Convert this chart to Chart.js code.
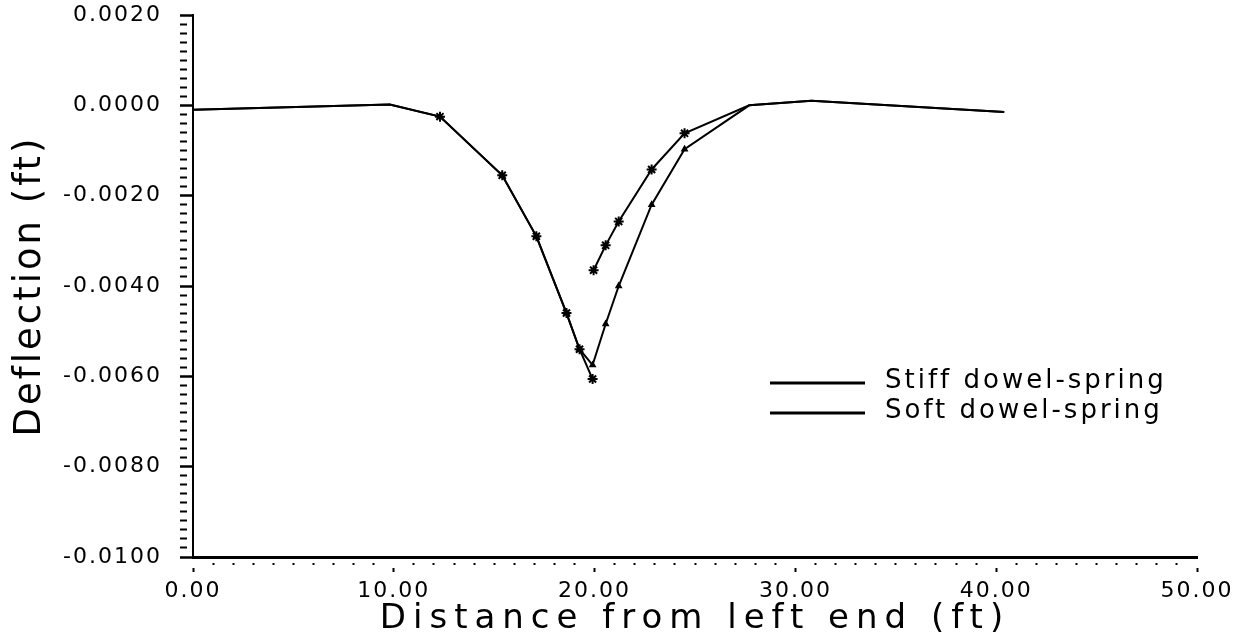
<!DOCTYPE html>
<html><head><meta charset="utf-8">
<script src="https://cdn.jsdelivr.net/npm/chart.js@4"></script>
<style>html,body{margin:0;padding:0;background:#fff}#wrap{width:1240px;height:644px}</style>
</head><body><div id="wrap"><canvas id="c" width="1240" height="644"></canvas></div>
<script>
const seriesLabels = ['Stiff dowel-spring', 'Soft dowel-spring'];
const stiffX = [0, 9.8, 12.3, 15.4, 17.1, 18.6, 19.25, 19.9, 20.55, 21.2, 22.84, 24.48, 27.7, 30.8, 40.4];
const stiffY = [-0.0001, 0.00002, -0.00025, -0.00155, -0.0029, -0.0046, -0.0054, -0.00575, -0.00484, -0.0040, -0.0022, -0.00097, 0.0000, 0.0001, -0.00015];
const softX = [0, 9.8, 12.3, 15.4, 17.1, 18.6, 19.25, 19.9, 19.92, 19.95, 20.55, 21.2, 22.84, 24.48, 27.7, 30.8, 40.4];
const softY = [-0.0001, 0.00002, -0.00025, -0.00155, -0.0029, -0.0046, -0.0054, -0.00606, null, -0.00365, -0.0031, -0.00257, -0.00142, -0.00062, 0.0000, 0.0001, -0.00015];
const xTickLabels = ['0.00', '10.00', '20.00', '30.00', '40.00', '50.00'];
const yTickLabels = ['0.0020', '0.0000', '-0.0020', '-0.0040', '-0.0060', '-0.0080', '-0.0100'];
const xAxisTitle = 'Distance from left end (ft)';
const yAxisTitle = 'Deflection (ft)';

const FAM = '"DejaVu Sans", sans-serif';
const toPts = (xs, ys) => xs.map((x, i) => ({x: x, y: ys[i]}));
const isXMajor = v => Math.abs(v / 10 - Math.round(v / 10)) < 1e-6;
const isYMajor = v => Math.abs(v / 0.002 - Math.round(v / 0.002)) < 1e-6;
const markRadius = (r) => (ctx) => { const p = ctx.raw; return (p && p.x > 12 && p.x < 25) ? r : 0; };

// per-text letter spacing (plotter-like lettering)
const spacingFor = t => (t === xAxisTitle ? '7px' : t === yAxisTitle ? '3px' : '2px');
const spacingPlugin = {
  id: 'spacing',
  beforeInit(chart) {
    const ctx = chart.ctx;
    const proto = CanvasRenderingContext2D.prototype;
    ctx.fillText = function (t, x, y, w) {
      const old = this.letterSpacing;
      this.letterSpacing = spacingFor(t);
      if (w === undefined) proto.fillText.call(this, t, x, y);
      else proto.fillText.call(this, t, x, y, w);
      this.letterSpacing = old;
    };
    ctx.measureText = function (t) {
      const old = this.letterSpacing;
      this.letterSpacing = spacingFor(t);
      const m = proto.measureText.call(this, t);
      this.letterSpacing = old;
      return m;
    };
  }
};

const legendPlugin = {
  id: 'plotLegend',
  afterDatasetsDraw(chart) {
    const ctx = chart.ctx;
    ctx.save();
    chart.data.datasets.forEach((ds, i) => {
      const y = 383 + i * 30;
      ctx.strokeStyle = '#000';
      ctx.lineWidth = 3;
      ctx.beginPath(); ctx.moveTo(770, y); ctx.lineTo(865, y); ctx.stroke();
      ctx.fillStyle = '#000';
      ctx.font = '26px ' + FAM;
      ctx.textBaseline = 'middle';
      ctx.textAlign = 'left';
      ctx.letterSpacing = '3px';
      CanvasRenderingContext2D.prototype.fillText.call(ctx, ds.label, 885, y - 2);
    });
    ctx.restore();
  }
};

new Chart(document.getElementById('c'), {
  type: 'line',
  data: {
    datasets: [
      {
        label: seriesLabels[0], data: toPts(stiffX, stiffY),
        borderColor: '#000', backgroundColor: '#000', borderWidth: 2,
        pointStyle: 'triangle', pointRadius: markRadius(3), pointBorderWidth: 1.5,
        tension: 0, spanGaps: false
      },
      {
        label: seriesLabels[1], data: toPts(softX, softY),
        borderColor: '#000', backgroundColor: '#000', borderWidth: 2,
        pointStyle: 'star', pointRadius: markRadius(5), pointBorderWidth: 2,
        tension: 0, spanGaps: false
      }
    ]
  },
  options: {
    responsive: false, animation: false,
    layout: {padding: {top: 15, right: 43, left: 0, bottom: 0}},
    plugins: {legend: {display: false}, tooltip: {enabled: false}},
    scales: {
      x: {
        type: 'linear', min: 0, max: 50,
        afterFit(s) { s.height = 87; },
        border: {display: true, color: '#000', width: 3},
        grid: {
          drawOnChartArea: false, drawTicks: true, tickLength: 15,
          tickColor: '#000',
          tickWidth: 2,
          tickBorderDash: c => isXMajor(c.tick.value) ? [0, 9, 6, 100] : [0, 4, 2, 100]
        },
        ticks: {
          stepSize: 1, autoSkip: false, maxRotation: 0, padding: 6, color: '#000',
          font: {family: FAM, size: 22},
          callback: v => isXMajor(v) ? xTickLabels[Math.round(v / 10)] : ''
        },
        title: {display: true, text: xAxisTitle, color: '#000', font: {family: FAM, size: 34}, padding: {top: 0, bottom: 4}}
      },
      y: {
        type: 'linear', min: -0.01, max: 0.002,
        afterFit(s) { s.width = 193; s.paddingTop = 0; s.paddingBottom = 0; },
        border: {display: true, color: '#000', width: 2},
        grid: {
          drawOnChartArea: false, drawTicks: true, tickLength: 13,
          tickColor: '#000',
          tickWidth: c => isYMajor(c.tick.value) ? 2.5 : 2,
          tickBorderDash: c => isYMajor(c.tick.value) ? [] : [7, 100]
        },
        ticks: {
          stepSize: 0.0002, autoSkip: false, padding: 18, color: '#000',
          font: {family: FAM, size: 22},
          callback: v => isYMajor(v) ? yTickLabels[Math.round((0.002 - v) / 0.002)] : ''
        },
        title: {display: true, text: yAxisTitle, color: '#000', font: {family: FAM, size: 37}, padding: {top: 8, bottom: 0}}
      }
    }
  },
  plugins: [spacingPlugin, legendPlugin]
});
</script></body></html>
